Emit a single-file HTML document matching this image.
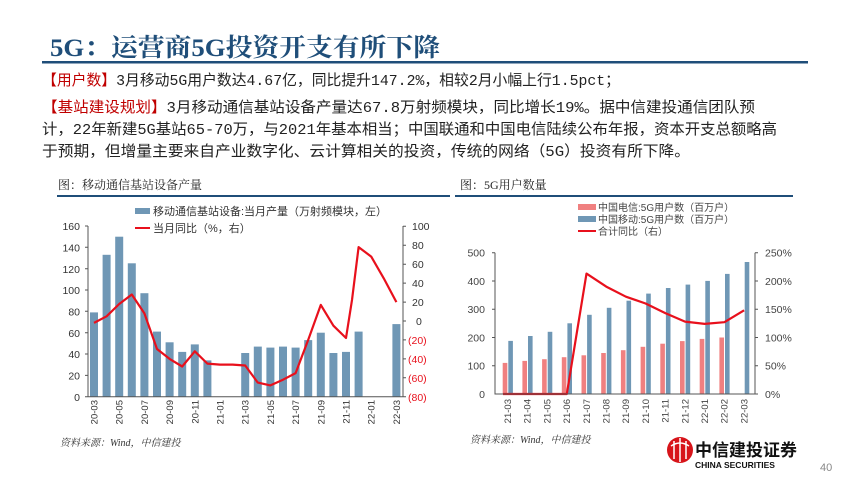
<!DOCTYPE html>
<html><head><meta charset="utf-8"><style>
html,body{margin:0;padding:0;background:#fff;}
svg{display:block;}
</style></head><body>
<svg width="850" height="478" viewBox="0 0 850 478" xmlns="http://www.w3.org/2000/svg" font-family="Liberation Sans, Noto Sans CJK SC, sans-serif">
<!-- Header -->
<text x="50" y="56" font-family="Liberation Serif, Noto Serif CJK SC, serif" font-size="25" fill="#1f4e79" font-weight="bold" textLength="390" lengthAdjust="spacingAndGlyphs">5G：运营商5G投资开支有所下降</text>
<rect x="42" y="61" width="766" height="2.5" fill="#1f4e79"/>
<g font-family="Liberation Mono, Noto Sans CJK SC, sans-serif" font-size="15" fill="#222">
<text x="42" y="85" textLength="578" lengthAdjust="spacingAndGlyphs"><tspan fill="#c00000">【用户数】</tspan>3月移动5G用户数达4.67亿，同比提升147.2%，相较2月小幅上行1.5pct；</text>
<text x="42" y="112" textLength="713" lengthAdjust="spacingAndGlyphs"><tspan fill="#c00000">【基站建设规划】</tspan>3月移动通信基站设备产量达67.8万射频模块，同比增长19%。据中信建投通信团队预</text>
<text x="42" y="134" textLength="735" lengthAdjust="spacingAndGlyphs">计，22年新建5G基站65-70万，与2021年基本相当；中国联通和中国电信陆续公布年报，资本开支总额略高</text>
<text x="42" y="156" textLength="648" lengthAdjust="spacingAndGlyphs">于预期，但增量主要来自产业数字化、云计算相关的投资，传统的网络（5G）投资有所下降。</text>
</g>
<!-- chart titles -->
<g font-family="Liberation Serif, Noto Serif CJK SC, serif" font-size="12" fill="#222">
<text x="58" y="189">图：移动通信基站设备产量</text>
<text x="460" y="189">图：5G用户数量</text>
</g>
<rect x="57" y="195" width="393" height="2" fill="#1f4e79"/>
<rect x="455" y="195" width="338" height="2" fill="#1f4e79"/>

<!-- LEFT CHART -->
<g fill="#6f97b5">
<rect x="90" y="312.4" width="8" height="84.3"/>
<rect x="102.6" y="254.8" width="8" height="141.9"/>
<rect x="115.2" y="236.7" width="8" height="160"/>
<rect x="127.8" y="263.3" width="8" height="133.4"/>
<rect x="140.4" y="293.2" width="8" height="103.5"/>
<rect x="153" y="331.6" width="8" height="65.1"/>
<rect x="165.6" y="342.3" width="8" height="54.4"/>
<rect x="178.2" y="351.9" width="8" height="44.8"/>
<rect x="190.8" y="344.4" width="8" height="52.3"/>
<rect x="203.4" y="360.4" width="8" height="36.3"/>
<rect x="241.2" y="353" width="8" height="43.7"/>
<rect x="253.8" y="346.6" width="8" height="50.1"/>
<rect x="266.4" y="347.6" width="8" height="49.1"/>
<rect x="279" y="346.6" width="8" height="50.1"/>
<rect x="291.6" y="347.6" width="8" height="49.1"/>
<rect x="304.2" y="340.1" width="8" height="56.6"/>
<rect x="316.8" y="332.7" width="8" height="64"/>
<rect x="329.4" y="353" width="8" height="43.7"/>
<rect x="342" y="351.9" width="8" height="44.8"/>
<rect x="354.6" y="331.6" width="8" height="65.1"/>
<rect x="392.4" y="324.1" width="8" height="72.6"/>
</g>
<polyline fill="none" stroke="#e8101c" stroke-width="2.2" stroke-linejoin="round" points="94,322.9 106.6,316.3 119.2,304 131.8,294.5 144.4,313.4 157,349 169.6,358.9 182.2,366.5 194.8,351.3 207.4,363.6 220,364.6 232.6,364.6 245.2,365.5 257.8,382.6 270.4,385.4 283,379.7 295.6,373.1 308.2,339.9 320.8,304.9 333.4,325.7 346,338 352,300 358.6,247.1 371.2,256.6 383.8,278.4 396.4,302.1"/>
<g stroke="#555" stroke-width="1" fill="none">
<line x1="88" y1="226" x2="88" y2="397"/>
<line x1="88" y1="396.7" x2="403" y2="396.7"/>
<line x1="403" y1="226" x2="403" y2="397"/>
<path d="M85 226H88M85 247.3H88M85 268.7H88M85 290H88M85 311.3H88M85 332.7H88M85 354H88M85 375.4H88M85 396.7H88"/>
<path d="M403 226.3H406M403 245.2H406M403 264.2H406M403 283.1H406M403 302.1H406M403 321H406M403 339.9H406M403 358.9H406M403 377.8H406M403 396.7H406"/>
</g>
<g font-size="10.5" fill="#333" text-anchor="end">
<text x="80" y="230">160</text><text x="80" y="251.5">140</text><text x="80" y="273">120</text><text x="80" y="294">100</text><text x="80" y="315.5">80</text><text x="80" y="337">60</text><text x="80" y="358">40</text><text x="80" y="379.5">20</text><text x="80" y="401">0</text>
</g>
<g font-size="10.5" fill="#333">
<text x="412" y="230">100</text><text x="412" y="249">80</text><text x="412" y="268">60</text><text x="412" y="287">40</text><text x="412" y="306">20</text><text x="416" y="325">0</text>
</g>
<g font-size="10.5" fill="#e8101c">
<text x="408" y="344">(20)</text><text x="408" y="363">(40)</text><text x="408" y="382">(60)</text><text x="408" y="401">(80)</text>
</g>
<g font-size="9.5" fill="#333" text-anchor="end">
<text transform="translate(97.5,400) rotate(-90)">20-03</text>
<text transform="translate(122.7,400) rotate(-90)">20-05</text>
<text transform="translate(147.9,400) rotate(-90)">20-07</text>
<text transform="translate(173.1,400) rotate(-90)">20-09</text>
<text transform="translate(198.3,400) rotate(-90)">20-11</text>
<text transform="translate(223.5,400) rotate(-90)">21-01</text>
<text transform="translate(248.7,400) rotate(-90)">21-03</text>
<text transform="translate(273.9,400) rotate(-90)">21-05</text>
<text transform="translate(299.1,400) rotate(-90)">21-07</text>
<text transform="translate(324.3,400) rotate(-90)">21-09</text>
<text transform="translate(349.5,400) rotate(-90)">21-11</text>
<text transform="translate(374.7,400) rotate(-90)">22-01</text>
<text transform="translate(399.9,400) rotate(-90)">22-03</text>
</g>
<rect x="135" y="208" width="15" height="6" fill="#6f97b5"/>
<line x1="135" y1="228" x2="150" y2="228" stroke="#e8101c" stroke-width="2"/>
<g font-size="11" fill="#333">
<text x="153" y="215">移动通信基站设备:当月产量（万射频模块，左）</text>
<text x="153" y="232">当月同比（%，右）</text>
</g>

<!-- RIGHT CHART -->
<g fill="#f08080">
<rect x="502.7" y="362.9" width="4.6" height="31.1"/>
<rect x="522.4" y="360.9" width="4.6" height="33.1"/>
<rect x="542.1" y="359.2" width="4.6" height="34.8"/>
<rect x="561.8" y="357.2" width="4.6" height="36.8"/>
<rect x="581.5" y="355.3" width="4.6" height="38.7"/>
<rect x="601.2" y="353" width="4.6" height="41"/>
<rect x="620.9" y="350.2" width="4.6" height="43.8"/>
<rect x="640.6" y="346.8" width="4.6" height="47.2"/>
<rect x="660.3" y="343.7" width="4.6" height="50.3"/>
<rect x="680" y="341.1" width="4.6" height="52.9"/>
<rect x="699.7" y="338.9" width="4.6" height="55.1"/>
<rect x="719.4" y="337.5" width="4.6" height="56.5"/>
</g>
<g fill="#6f97b5">
<rect x="508.3" y="340.9" width="4.6" height="53.1"/>
<rect x="528" y="336" width="4.6" height="58"/>
<rect x="547.7" y="331.8" width="4.6" height="62.2"/>
<rect x="567.4" y="323.3" width="4.6" height="70.7"/>
<rect x="587.1" y="314.8" width="4.6" height="79.2"/>
<rect x="606.8" y="307.8" width="4.6" height="86.2"/>
<rect x="626.5" y="300.7" width="4.6" height="93.3"/>
<rect x="646.2" y="293.6" width="4.6" height="100.4"/>
<rect x="665.9" y="288" width="4.6" height="106"/>
<rect x="685.6" y="284.6" width="4.6" height="109.4"/>
<rect x="705.3" y="280.9" width="4.6" height="113.1"/>
<rect x="725" y="273.9" width="4.6" height="120.1"/>
<rect x="744.7" y="262" width="4.6" height="132"/>
</g>
<polyline fill="none" stroke="#e8101c" stroke-width="2.2" stroke-linejoin="round" points="503,394 566.8,394 586.5,273.6 606.2,286.6 625.9,296.7 645.6,303.5 665.3,313.1 685,321.6 704.7,323.9 724.4,322.2 744.1,310.3"/>
<g stroke="#555" stroke-width="1" fill="none">
<line x1="495" y1="252.7" x2="495" y2="394.5"/>
<line x1="495" y1="394" x2="755" y2="394"/>
<line x1="755" y1="252.7" x2="755" y2="394.5"/>
<path d="M492 252.7H495M492 281H495M492 309.2H495M492 337.5H495M492 365.7H495"/>
<path d="M755 252.7H758M755 281H758M755 309.2H758M755 337.5H758M755 365.7H758M755 394H758"/>
</g>
<g font-size="10.5" fill="#444" text-anchor="end">
<text x="485" y="256.5">500</text><text x="485" y="285">400</text><text x="485" y="313">300</text><text x="485" y="341.5">200</text><text x="485" y="369.5">100</text><text x="485" y="398">0</text>
</g>
<g font-size="10.5" fill="#444">
<text x="765" y="256.5">250%</text><text x="765" y="285">200%</text><text x="765" y="313">150%</text><text x="765" y="341.5">100%</text><text x="765" y="369.5">50%</text><text x="765" y="398">0%</text>
</g>
<g font-size="9.5" fill="#444" text-anchor="end">
<text transform="translate(511,399) rotate(-90)">21-03</text>
<text transform="translate(530.7,399) rotate(-90)">21-04</text>
<text transform="translate(550.4,399) rotate(-90)">21-05</text>
<text transform="translate(570.1,399) rotate(-90)">21-06</text>
<text transform="translate(589.8,399) rotate(-90)">21-07</text>
<text transform="translate(609.5,399) rotate(-90)">21-08</text>
<text transform="translate(629.2,399) rotate(-90)">21-09</text>
<text transform="translate(648.9,399) rotate(-90)">21-10</text>
<text transform="translate(668.6,399) rotate(-90)">21-11</text>
<text transform="translate(688.3,399) rotate(-90)">21-12</text>
<text transform="translate(708,399) rotate(-90)">22-01</text>
<text transform="translate(727.7,399) rotate(-90)">22-02</text>
<text transform="translate(747.4,399) rotate(-90)">22-03</text>
</g>
<rect x="578" y="204" width="18" height="6" fill="#f08080"/>
<rect x="578" y="216" width="18" height="6" fill="#6f97b5"/>
<line x1="578" y1="231" x2="596" y2="231" stroke="#e8101c" stroke-width="2"/>
<g font-size="10" fill="#444">
<text x="598" y="211">中国电信:5G用户数（百万户）</text>
<text x="598" y="223">中国移动:5G用户数（百万户）</text>
<text x="598" y="235">合计同比（右）</text>
</g>

<!-- Sources -->
<g font-family="Liberation Serif, Noto Serif CJK SC, serif" font-size="10" font-style="italic" fill="#333">
<text x="60" y="446">资料来源：Wind，中信建投</text>
<text x="470" y="443">资料来源：Wind，中信建投</text>
</g>
<!-- Logo -->
<circle cx="680" cy="450" r="13" fill="#d7141a"/>
<g stroke="#fff" stroke-width="1.5" fill="none">
<path d="M674 441V459M680 438V462M686 441V459"/>
<path d="M671 446Q680 440 689 446"/>
</g>
<text x="695" y="456" font-size="17" font-weight="bold" fill="#111" font-family="Noto Sans CJK SC, sans-serif">中信建投证券</text>
<text x="695" y="468" font-size="8.5" font-weight="bold" fill="#111">CHINA SECURITIES</text>
<text x="820" y="471" font-size="11" fill="#888">40</text>
</svg>
</body></html>
